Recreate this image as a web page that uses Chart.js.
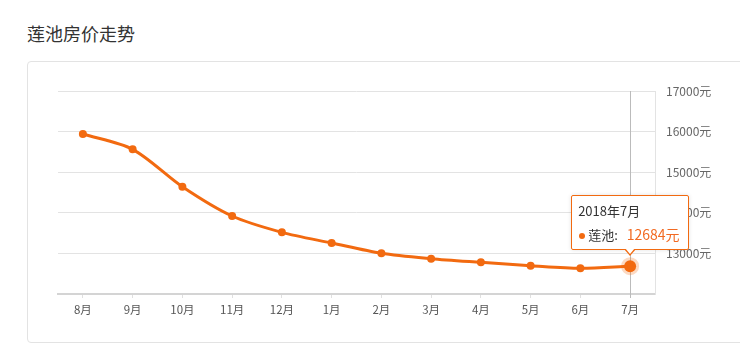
<!DOCTYPE html>
<html>
<head>
<meta charset="utf-8">
<script src="https://cdn.jsdelivr.net/npm/chart.js@4/dist/chart.umd.min.js"></script>
<style>
  html, body { margin: 0; padding: 0; background: #fff; overflow: hidden; }
  body { width: 740px; height: 345px; position: relative; font-family: "Noto Sans CJK SC", sans-serif; }
  .title { position: absolute; left: 27px; top: 20px; font-size: 18px; color: #333; line-height: 26px; }
  .card { position: absolute; left: 27px; top: 61px; width: 760px; height: 280px; border: 1px solid #e3e3e3; border-radius: 4px; }
  #priceChart { position: absolute; left: 0; top: 0; }
  .tip {
    position: absolute; box-sizing: border-box; width: 118px; height: 55px;
    background: #fff; border: 1px solid #f26a10; border-radius: 2px;
    box-shadow: 0 0 4px rgba(0,0,0,0.12); padding: 6px 0 0 6px; display: none;
  }
  .tip::before, .tip::after {
    content: ''; position: absolute; left: 50%; width: 0; height: 0;
    border-left: 6px solid transparent; border-right: 6px solid transparent;
  }
  .tip::before { bottom: -7px; margin-left: -6px; border-top: 7px solid #f26a10; }
  .tip::after { bottom: -5px; margin-left: -5px; border-left-width: 5px; border-right-width: 5px; border-top: 6px solid #fff; }
  .tip .t { font-size: 13px; color: #333; line-height: 18px; }
  .tip .b { font-size: 13px; color: #333; line-height: 20px; margin-top: 4px; white-space: nowrap; }
  .tip .dot { display: inline-block; width: 6px; height: 6px; border-radius: 50%; background: #f26a10; margin: 0 3px 1px 1px; vertical-align: middle; }
  .tip .v { font-size: 14px; color: #f26a22; margin-left: 9px; }
</style>
</head>
<body>
<div class="title">莲池房价走势</div>
<div class="card"></div>
<canvas id="priceChart" width="740" height="345"></canvas>
<div class="tip" id="tip"></div>
<script>
const seriesName = '莲池';
const months = ['8月', '9月', '10月', '11月', '12月', '1月', '2月', '3月', '4月', '5月', '6月', '7月'];
const fullMonths = ['2017年8月', '2017年9月', '2017年10月', '2017年11月', '2017年12月', '2018年1月',
  '2018年2月', '2018年3月', '2018年4月', '2018年5月', '2018年6月', '2018年7月'];
const prices = [15940, 15564, 14643, 13921, 13519, 13256, 13002, 12870, 12780, 12697, 12633, 12684];
const yTicks = [12000, 13000, 14000, 15000, 16000, 17000];
const unit = '元';

document.addEventListener('DOMContentLoaded', function () {
  Chart.defaults.font.family = '"Noto Sans CJK SC", sans-serif';
  Chart.defaults.animation = false;

  const orange = '#f26a10';
  const tip = document.getElementById('tip');

  // vertical guide line through the hovered month
  const crossLine = {
    id: 'crossLine',
    beforeDatasetsDraw(chart) {
      const active = chart.getActiveElements();
      if (!active.length) return;
      const x = active[0].element.x;
      const ctx = chart.ctx;
      ctx.save();
      ctx.strokeStyle = '#bbbbbb';
      ctx.lineWidth = 1;
      ctx.beginPath();
      ctx.moveTo(Math.round(x) + 0.5, chart.chartArea.top);
      ctx.lineTo(Math.round(x) + 0.5, chart.chartArea.bottom + 4);
      ctx.stroke();
      ctx.restore();
    }
  };

  function externalTip(context) {
    const t = context.tooltip;
    if (t.opacity === 0) { tip.style.display = 'none'; return; }
    const i = t.dataPoints[0].dataIndex;
    tip.innerHTML = '<div class="t">' + fullMonths[i] + '</div>' +
      '<div class="b"><span class="dot"></span>' + seriesName + ':' +
      '<span class="v">' + prices[i] + unit + '</span></div>';
    tip.style.display = 'block';
    tip.style.left = (t.caretX - 59) + 'px';
    tip.style.top = (t.caretY - 71) + 'px';
  }

  const ctx = document.getElementById('priceChart').getContext('2d');
  const chart = new Chart(ctx, {
    type: 'line',
    data: {
      labels: months,
      datasets: [{
        label: seriesName,
        data: prices,
        borderColor: orange,
        backgroundColor: orange,
        borderWidth: 3,
        tension: 0.3,
        pointRadius: 4,
        pointBackgroundColor: orange,
        pointBorderWidth: 0,
        pointHoverRadius: 6,
        pointHoverBackgroundColor: orange,
        pointHoverBorderColor: 'rgba(242,106,16,0.25)',
        pointHoverBorderWidth: 6
      }]
    },
    plugins: [crossLine],
    options: {
      responsive: false,
      events: [],
      layout: { padding: { left: 58, top: 91, right: 0, bottom: 0 } },
      plugins: {
        legend: { display: false },
        tooltip: { enabled: false, external: externalTip }
      },
      scales: {
        x: {
          offset: true,
          afterFit: function (scale) { scale.height = 51; },
          grid: { display: true, drawOnChartArea: false, drawTicks: true, tickLength: 4, offset: false, color: '#e0e0e0' },
          border: { display: true, color: '#d4d4d4', width: 2 },
          ticks: { color: '#555', font: { size: 11.5 }, padding: 5, maxRotation: 0, autoSkip: false }
        },
        y: {
          position: 'right',
          min: yTicks[0],
          max: yTicks[yTicks.length - 1],
          afterFit: function (scale) { scale.width = 85; },
          afterBuildTicks: function (scale) { scale.ticks = yTicks.map(v => ({ value: v })); },
          grid: { color: '#e3e3e3', drawTicks: false },
          border: { display: true, color: '#e3e3e3' },
          ticks: {
            color: '#666',
            font: { size: 12 },
            padding: 11,
            callback: function (value) { return value === yTicks[0] ? '' : value + unit; }
          }
        }
      }
    }
  });

  const last = prices.length - 1;
  const el = chart.getDatasetMeta(0).data[last];
  chart.setActiveElements([{ datasetIndex: 0, index: last }]);
  chart.tooltip.setActiveElements([{ datasetIndex: 0, index: last }], { x: el.x, y: el.y });
  chart.update();
});
</script>
</body>
</html>
